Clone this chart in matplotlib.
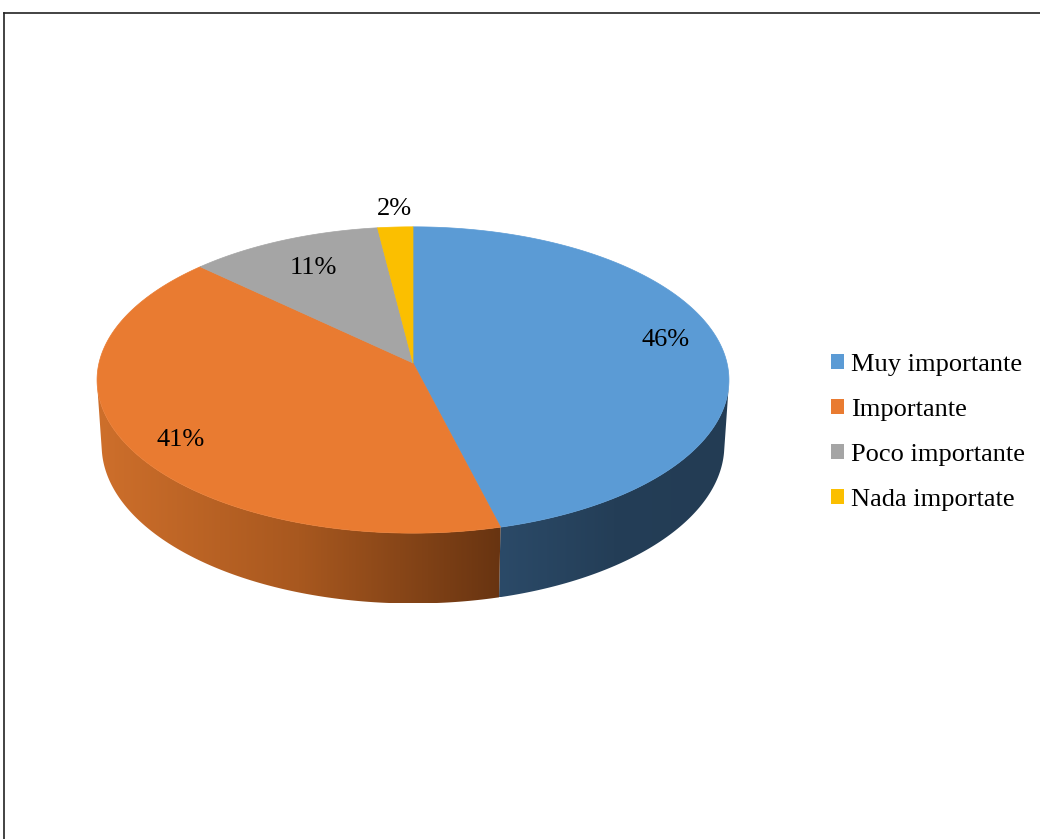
import numpy as np
import matplotlib
matplotlib.use("Agg")
import matplotlib.pyplot as plt
from matplotlib.patches import Polygon, Patch
from matplotlib.colors import LinearSegmentedColormap
import matplotlib.lines as mlines

# survey answers (percent)
categories = ["Muy importante", "Importante", "Poco importante", "Nada importate"]
values = [46, 41, 11, 2]
labels = ["46%", "41%", "11%", "2%"]

top_colors = ["#5B9BD5", "#E97B31", "#A5A5A5", "#FBBF00"]
side_colors = [["#2B4A68", "#243E57", "#233C54"],
               ["#CE6F2B", "#A8581F", "#683411"],
               ["#6E6E6E", "#5A5A5A", "#4A4A4A"],
               ["#B58A00", "#9A7600", "#7F6100"]]
# label placement: radius fraction and a small nudge in px
label_r = [0.82, 0.84, 0.75, 1.15]
label_nudge = [(0, -8), (6, 9), (0, -1), (2, 0)]

W, H = 1040, 839
cx, cy = 413.0, 363.0      # pie apex on screen, px
k = 314.0                   # radius scale, px
tilt = np.radians(28.8)
dist = 7.9                  # camera distance in radius units
depth = 0.24                # thickness in radius units
sa, ca = np.sin(tilt), np.cos(tilt)


def project(theta, r=1.0, y=0.0):
    X = r * np.cos(theta)
    Z = r * np.sin(theta)
    yv = y * ca + Z * sa
    zv = -y * sa + Z * ca
    f = dist / (dist + zv)
    return cx + k * X * f, cy - k * yv * f


fig = plt.figure(figsize=(W / 100, H / 100), dpi=100)
ax = fig.add_axes([0, 0, 1, 1])
ax.axis("off")

# slice angles, clockwise from 12 o'clock
fracs = np.array(values, dtype=float) / sum(values)
edges = np.pi / 2 - 2 * np.pi * np.concatenate([[0], np.cumsum(fracs)])

# front wall is visible where sin(theta) < -1/(dist*cos(tilt))
vis_lim = np.arcsin(-1.0 / (dist * ca))
vis_lo, vis_hi = -np.pi - vis_lim, vis_lim

for i in range(len(values)):
    a_end, a_start = edges[i + 1], edges[i]
    for shift in (0.0, 2 * np.pi, -2 * np.pi):
        lo = max(a_end + shift, vis_lo)
        hi = min(a_start + shift, vis_hi)
        if hi <= lo:
            continue
        th = np.linspace(lo, hi, 200)
        tx, ty = project(th)
        bx, by = project(th[::-1], y=-depth)
        pts = np.column_stack([np.concatenate([tx, bx]), np.concatenate([ty, by])])
        poly = Polygon(pts, closed=True, facecolor="none", edgecolor="none")
        ax.add_patch(poly)
        cmap = LinearSegmentedColormap.from_list("side%d" % i, side_colors[i])
        x0, x1 = pts[:, 0].min(), pts[:, 0].max()
        y0, y1 = pts[:, 1].min(), pts[:, 1].max()
        grad = np.linspace(0, 1, 256).reshape(1, -1)
        im = ax.imshow(grad, cmap=cmap, extent=[x0, x1, y1, y0], aspect="auto",
                       interpolation="bilinear", zorder=1)
        im.set_clip_path(poly)

# top face slices
for i in range(len(values)):
    th = np.linspace(edges[i], edges[i + 1], 300)
    ex, ey = project(th)
    pts = np.column_stack([np.concatenate([[cx], ex]), np.concatenate([[cy], ey])])
    ax.add_patch(Polygon(pts, closed=True, facecolor=top_colors[i],
                         edgecolor=top_colors[i], linewidth=0.5, zorder=2))

# data labels
for i in range(len(values)):
    mid = (edges[i] + edges[i + 1]) / 2
    lx, ly = project(mid, r=label_r[i])
    ax.text(lx + label_nudge[i][0], ly + label_nudge[i][1], labels[i],
            ha="center", va="center", fontsize=19,
            family="Liberation Serif", color="black", zorder=3)

ax.set_xlim(0, W)
ax.set_ylim(H, 0)

# legend
handles = [Patch(facecolor=c, edgecolor="none") for c in top_colors]
fig.legend(handles, categories, loc="upper left",
           bbox_to_anchor=(831 / W, 1 - 354 / H), frameon=False,
           prop={"family": "Liberation Serif", "size": 19},
           handlelength=0.5, handleheight=0.5, handletextpad=0.25,
           labelspacing=0.87, borderpad=0, borderaxespad=0)

# frame around the chart area
fig.add_artist(mlines.Line2D([4 / W, 1], [1 - 13 / H, 1 - 13 / H],
                             transform=fig.transFigure, color="#222222", linewidth=1.2))
fig.add_artist(mlines.Line2D([4 / W, 4 / W], [0, 1 - 13 / H],
                             transform=fig.transFigure, color="#222222", linewidth=1.2))

fig.savefig("out.png", dpi=100, facecolor="white")
